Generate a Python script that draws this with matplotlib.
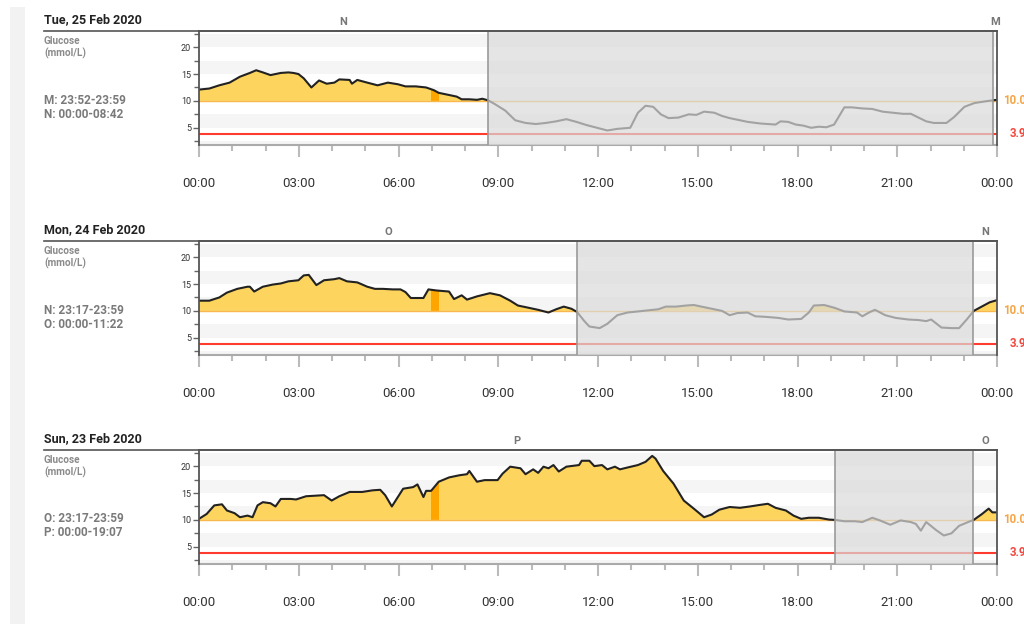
import matplotlib
matplotlib.use("Agg")
import matplotlib.pyplot as plt
import numpy as np
from matplotlib.patches import Rectangle
from matplotlib.lines import Line2D
from matplotlib.ticker import MultipleLocator, FixedLocator

plt.rcParams['font.family'] = ['Roboto', 'DejaVu Sans']

# ---------------- data ----------------
dates = ["Tue, 25 Feb 2020", "Mon, 24 Feb 2020", "Sun, 23 Feb 2020"]
range_texts = [("M: 23:52-23:59", "N: 00:00-08:42"),
               ("N: 23:17-23:59", "O: 00:00-11:22"),
               ("O: 23:17-23:59", "P: 00:00-19:07")]
main_labels = ["N", "O", "P"]
next_labels = ["M", "N", "O"]
main_end = [8.70, 11.37, 19.12]      # hours
next_start = [23.87, 23.28, 23.28]   # hours
marker_start, marker_end = 6.98, 7.21
high_limit, low_limit = 10.0, 3.9
xtick_labels = ["00:00", "03:00", "06:00", "09:00", "12:00", "15:00", "18:00", "21:00", "00:00"]

t1 = [0.00, 0.31, 0.61, 0.92, 1.23, 1.53, 1.72, 1.92, 2.15, 2.46, 2.69, 2.84, 2.99, 3.15, 3.38,
      3.61, 3.84, 4.07, 4.22, 4.53, 4.60, 4.76, 5.06, 5.37, 5.68, 5.98, 6.21, 6.52, 6.83, 7.06,
      7.21, 7.52, 7.75, 7.90, 8.13, 8.36, 8.52, 8.70, 8.90, 9.21, 9.51, 9.82, 10.13, 10.43, 10.74,
      11.05, 11.35, 11.66, 11.97, 12.28, 12.58, 12.97, 13.20, 13.43, 13.66, 13.89, 14.12, 14.42,
      14.73, 14.96, 15.19, 15.50, 15.73, 15.96, 16.27, 16.50, 16.88, 17.34, 17.49, 17.72, 17.95,
      18.18, 18.41, 18.64, 18.87, 19.10, 19.41, 19.64, 19.95, 20.25, 20.56, 20.87, 21.17, 21.41,
      21.64, 21.87, 22.10, 22.48, 22.71, 23.02, 23.32, 23.63, 23.86, 24.00]
g1 = [12.1, 12.3, 12.9, 13.4, 14.5, 15.2, 15.7, 15.3, 14.8, 15.2, 15.3, 15.2, 15.0, 14.2, 12.5,
      13.8, 13.2, 13.4, 14.0, 13.9, 13.2, 13.9, 13.4, 12.9, 13.4, 13.1, 12.7, 12.7, 12.5, 12.0,
      11.5, 11.1, 10.8, 10.3, 10.3, 10.2, 10.4, 10.1, 9.4, 8.2, 6.4, 5.9, 5.7, 5.9, 6.2,
      6.6, 6.1, 5.5, 5.0, 4.5, 4.8, 5.0, 7.8, 9.1, 8.9, 7.5, 6.8, 6.9,
      7.5, 7.4, 8.0, 7.8, 7.2, 6.8, 6.4, 6.1, 5.8, 5.6, 6.2, 6.1, 5.6,
      5.4, 5.0, 5.2, 5.1, 5.6, 8.8, 8.8, 8.6, 8.5, 8.0, 7.8, 7.6, 7.6,
      6.9, 6.2, 5.9, 5.9, 7.0, 8.9, 9.6, 9.9, 10.1, 10.2]

t2 = [0.00, 0.31, 0.61, 0.84, 1.15, 1.46, 1.53, 1.66, 1.92, 2.22, 2.46, 2.69, 2.99, 3.15, 3.30,
      3.53, 3.76, 4.07, 4.22, 4.45, 4.76, 5.06, 5.29, 5.52, 5.83, 6.06, 6.21, 6.37, 6.75, 6.90,
      7.14, 7.52, 7.67, 7.90, 8.06, 8.36, 8.75, 9.05, 9.36, 9.59, 9.90, 10.20, 10.51, 10.74, 10.97,
      11.20, 11.37, 11.59, 11.74, 12.05, 12.28, 12.58, 12.89, 13.20, 13.50, 13.81, 14.04, 14.35,
      14.65, 14.88, 15.11, 15.42, 15.73, 15.96, 16.19, 16.50, 16.73, 17.03, 17.42, 17.72, 18.11,
      18.34, 18.49, 18.80, 19.10, 19.41, 19.79, 19.95, 20.18, 20.33, 20.64, 20.95, 21.33, 21.64,
      21.87, 22.02, 22.33, 22.63, 22.86, 23.09, 23.30, 23.48, 23.78, 24.00]
g2 = [11.9, 11.9, 12.5, 13.4, 14.1, 14.5, 14.5, 13.6, 14.5, 14.9, 15.1, 15.5, 15.7, 16.6, 16.7,
      14.8, 15.7, 15.9, 16.1, 15.5, 15.3, 14.5, 14.1, 14.1, 14.0, 14.0, 13.5, 12.4, 12.4, 14.0,
      13.8, 13.6, 12.2, 12.9, 12.1, 12.7, 13.3, 12.9, 11.9, 11.0, 10.6, 10.2, 9.7, 10.3, 10.8,
      10.4, 9.8, 8.1, 7.1, 6.8, 7.6, 9.2, 9.7, 9.9, 10.1, 10.3, 10.8, 10.8,
      11.0, 11.1, 10.8, 10.4, 10.0, 9.2, 9.6, 9.7, 9.0, 8.9, 8.7, 8.4, 8.5,
      9.7, 11.0, 11.1, 10.6, 9.9, 9.7, 9.0, 9.8, 10.2, 9.2, 8.7, 8.4, 8.3,
      8.1, 8.4, 6.9, 6.8, 6.8, 8.4, 10.0, 10.6, 11.6, 12.0]

t3 = [0.00, 0.23, 0.46, 0.69, 0.84, 1.07, 1.23, 1.46, 1.61, 1.76, 1.92, 2.15, 2.30, 2.46, 2.76,
      2.92, 3.22, 3.76, 3.99, 4.22, 4.53, 4.91, 5.22, 5.45, 5.60, 5.80, 5.98, 6.14, 6.44, 6.57,
      6.75, 6.83, 6.98, 7.21, 7.52, 7.83, 8.06, 8.13, 8.36, 8.59, 8.98, 9.13, 9.36, 9.67, 9.82,
      10.05, 10.20, 10.36, 10.51, 10.66, 10.82, 11.05, 11.43, 11.51, 11.74, 11.89, 12.12, 12.28,
      12.51, 12.66, 12.89, 13.20, 13.43, 13.63, 13.73, 13.96, 14.27, 14.58, 14.88, 15.19, 15.42,
      15.65, 15.96, 16.27, 16.57, 16.88, 17.11, 17.34, 17.65, 17.88, 18.11, 18.34, 18.64, 18.95,
      19.12, 19.41, 19.72, 19.95, 20.25, 20.48, 20.79, 21.10, 21.41, 21.56, 21.71, 21.87, 22.17,
      22.40, 22.63, 22.86, 23.17, 23.30, 23.55, 23.75, 23.86, 24.00]
g3 = [10.2, 11.1, 12.7, 12.9, 11.75, 11.25, 10.5, 10.8, 10.5, 12.7, 13.3, 13.1, 12.5, 13.9, 13.9,
      13.8, 14.4, 14.6, 13.6, 14.4, 15.2, 15.2, 15.5, 15.6, 14.6, 12.5, 14.25, 15.8, 16.1, 16.6,
      14.25, 15.4, 15.4, 17.1, 17.9, 18.3, 18.5, 19.1, 17.1, 17.4, 17.4, 18.6, 19.9, 19.6, 18.5,
      19.4, 18.75, 19.9, 19.6, 20.2, 19.0, 19.9, 20.2, 21.0, 21.0, 20.0, 20.2, 19.4,
      19.9, 19.4, 19.75, 20.2, 20.8, 21.9, 21.4, 19.1, 16.75, 13.6, 12.1, 10.5, 11.0,
      11.9, 12.4, 12.25, 12.5, 12.8, 13.0, 12.25, 11.75, 10.8, 10.2, 10.4, 10.4, 10.06,
      10.0, 9.75, 9.75, 9.6, 10.4, 9.9, 9.1, 9.9, 9.6, 9.25, 8.0, 9.6, 8.1,
      7.1, 7.5, 8.9, 9.7, 10.0, 11.1, 12.1, 11.4, 11.4]

times = [t1, t2, t3]
glucose = [g1, g2, g3]

# ---------------- styling / layout ----------------
W, H = 1024, 624
fig = plt.figure(figsize=(W / 100, H / 100), dpi=100)
fig.patch.set_facecolor("white")

YMIN, YMAX = 1.8, 23.0
left_px, right_px = 199, 997
tops = [31, 241, 450]
bottoms = [145, 355, 564]

YELLOW = "#FDD55E"
ORANGE_BAR = "#FFA500"
LINE_ORANGE = "#F8B84E"
RED = "#FF3B2F"

def fx(x):
    return x / W

def fy(y):
    return 1 - y / H

# left grey strip
fig.patches.append(Rectangle((fx(10), 0), fx(15), fy(7), transform=fig.transFigure,
                             facecolor="#F2F2F2", edgecolor="none", zorder=0))

for i in range(3):
    t = np.array(times[i])
    g = np.array(glucose[i])
    top, bot = tops[i], bottoms[i]
    ax = fig.add_axes([fx(left_px), fy(bot), (right_px - left_px) / W, (bot - top) / H])
    ax.set_xlim(0, 24)
    ax.set_ylim(YMIN, YMAX)
    ax.set_facecolor("white")

    # stripes
    for b in [0, 5, 10, 15, 20]:
        ax.axhspan(b, b + 2.5, color="#F5F5F5", lw=0, zorder=0)

    # fill above high
    ax.fill_between(t, high_limit, g, where=g >= high_limit, interpolate=True,
                    color=YELLOW, lw=0, zorder=1)
    # marker bar (orange) clipped to its time window
    bar = ax.fill_between(t, high_limit, g, where=g >= high_limit, interpolate=True,
                          color=ORANGE_BAR, lw=0, zorder=1.5)
    clip = Rectangle((marker_start, YMIN), marker_end - marker_start, YMAX - YMIN,
                     transform=ax.transData)
    bar.set_clip_path(clip)

    # threshold lines
    ax.axhline(high_limit, color=LINE_ORANGE, lw=1.0, zorder=2)
    ax.axhline(low_limit, color=RED, lw=1.5, zorder=2)

    # glucose curve
    ax.plot(t, g, color="#222222", lw=1.5, zorder=3, solid_joinstyle="round")

    # shaded (other-period) region
    ax.add_patch(Rectangle((main_end[i], YMIN), next_start[i] - main_end[i], YMAX - YMIN,
                           facecolor="#DADADA", alpha=0.7, edgecolor="none", zorder=5))
    for xv in (main_end[i], next_start[i]):
        ax.axvline(xv, color="#9A9A9A", lw=1.2, zorder=6)

    # spines
    for s in ["left", "right", "top"]:
        ax.spines[s].set_color("#555555")
        ax.spines[s].set_linewidth(1.3)
        ax.spines[s].set_zorder(10)
    ax.spines["bottom"].set_color("#AAAAAA")
    ax.spines["bottom"].set_linewidth(1.5)

    # x ticks
    ax.xaxis.set_major_locator(FixedLocator(range(0, 25, 3)))
    ax.set_xticklabels(xtick_labels)
    ax.xaxis.set_minor_locator(MultipleLocator(1))
    ax.tick_params(axis="x", which="major", length=8.5, width=1.5, color="#BBBBBB",
                   pad=14.5, labelsize=9.5, labelcolor="#333333")
    ax.tick_params(axis="x", which="minor", length=4.3, width=1.5, color="#BBBBBB")

    # y ticks
    ax.yaxis.set_major_locator(FixedLocator([5, 10, 15, 20]))
    ax.yaxis.set_minor_locator(FixedLocator([2.5, 7.5, 12.5, 17.5, 22.5]))
    ax.tick_params(axis="y", which="major", length=4.3, width=1, color="#666666",
                   pad=1.5, labelsize=6.5, labelcolor="#333333")
    ax.tick_params(axis="y", which="minor", length=3.6, width=1, color="#666666")

    # period labels above
    ax.text(main_end[i] / 2, YMAX + 1.65, main_labels[i], ha="center", va="center",
            fontsize=8, fontweight="bold", color="#777777", clip_on=False)
    ax.text((next_start[i] + 24) / 2, YMAX + 1.65, next_labels[i], ha="center", va="center",
            fontsize=8, fontweight="bold", color="#777777", clip_on=False)

    # right threshold labels
    ax.text(24.18, high_limit, f"{high_limit:.1f}", ha="left", va="center", fontsize=8.3,
            fontweight="bold", color="#F5A545", clip_on=False)
    ax.text(24.38, low_limit, f"{low_limit:.1f}", ha="left", va="center", fontsize=8.3,
            fontweight="bold", color="#F04A40", clip_on=False)

    # header
    fig.text(fx(44), fy(top - 11), dates[i], ha="left", va="center", fontsize=9,
             fontweight="bold", color="#222222")
    fig.lines.append(Line2D([fx(44), fx(right_px)], [fy(top), fy(top)], transform=fig.transFigure,
                            color="#555555", lw=1.2))
    fig.text(fx(44), fy(top + 10), "Glucose", ha="left", va="center", fontsize=7.2,
             fontweight="bold", color="#8A8A8A")
    fig.text(fx(44), fy(top + 22), "(mmol/L)", ha="left", va="center", fontsize=7.2,
             fontweight="bold", color="#8A8A8A")
    fig.text(fx(44), fy(top + 69), range_texts[i][0], ha="left", va="center", fontsize=8.5,
             fontweight="bold", color="#7A7A7A")
    fig.text(fx(44), fy(top + 83), range_texts[i][1], ha="left", va="center", fontsize=8.5,
             fontweight="bold", color="#7A7A7A")

fig.savefig("out.png", dpi=100, facecolor="white")
